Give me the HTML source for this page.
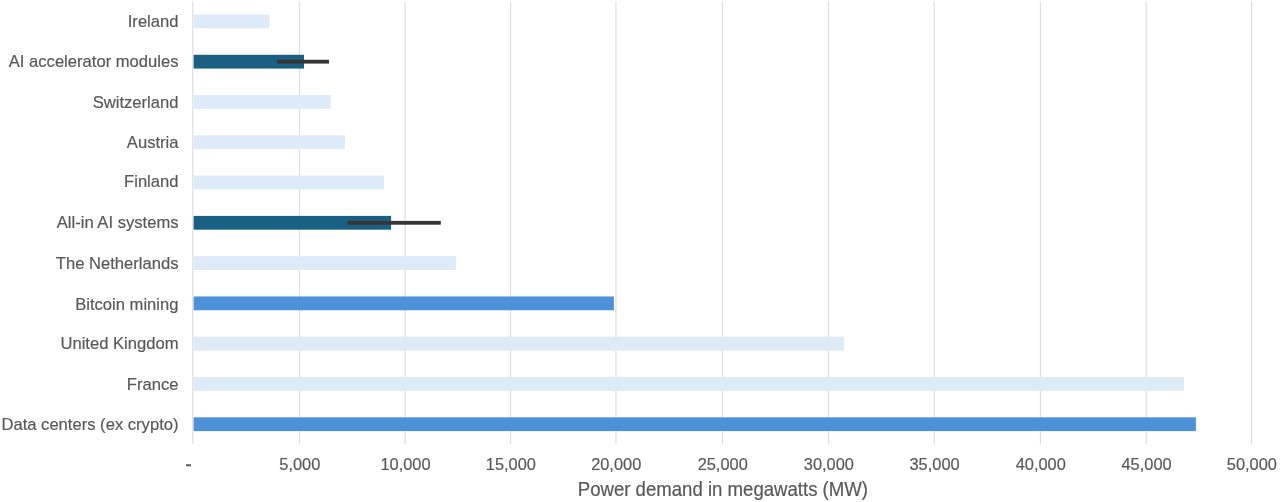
<!DOCTYPE html>
<html><head><meta charset="utf-8"><style>
html,body{margin:0;padding:0;background:#fff;width:1280px;height:502px;overflow:hidden}
svg{display:block;filter:blur(0.35px)}
.lab{font-family:"Liberation Sans",sans-serif;font-size:16.6px;fill:#595959;stroke:#595959;stroke-width:0.2px}
.tick{font-family:"Liberation Sans",sans-serif;font-size:16.4px;fill:#595959;stroke:#595959;stroke-width:0.2px}
.title{font-family:"Liberation Sans",sans-serif;font-size:18.6px;fill:#595959;stroke:#595959;stroke-width:0.2px}
</style></head><body>
<svg width="1280" height="502" viewBox="0 0 1280 502">
<rect x="192.14" y="1.5" width="1.25" height="442.5" fill="#dddfe2"/>
<rect x="298.88" y="1.5" width="1.25" height="442.5" fill="#dddfe2"/>
<rect x="404.58" y="1.5" width="1.25" height="442.5" fill="#dddfe2"/>
<rect x="509.94" y="1.5" width="1.25" height="442.5" fill="#dddfe2"/>
<rect x="615.28" y="1.5" width="1.25" height="442.5" fill="#dddfe2"/>
<rect x="721.78" y="1.5" width="1.25" height="442.5" fill="#dddfe2"/>
<rect x="827.94" y="1.5" width="1.25" height="442.5" fill="#dddfe2"/>
<rect x="933.66" y="1.5" width="1.25" height="442.5" fill="#dddfe2"/>
<rect x="1039.82" y="1.5" width="1.25" height="442.5" fill="#dddfe2"/>
<rect x="1145.66" y="1.5" width="1.25" height="442.5" fill="#dddfe2"/>
<rect x="1250.94" y="1.5" width="1.25" height="442.5" fill="#dddfe2"/>
<rect x="193.63" y="14.50" width="75.87" height="13.8" fill="#ddeaf7"/>
<text x="178.5" y="26.70" text-anchor="end" class="lab">Ireland</text>
<rect x="193.63" y="54.78" width="110.37" height="13.8" fill="#1a6082"/>
<rect x="277.00" y="59.78" width="52.00" height="3.8" fill="#353535"/>
<text x="178.5" y="67.28" text-anchor="end" class="lab">AI accelerator modules</text>
<rect x="193.63" y="95.06" width="137.17" height="13.8" fill="#ddeaf7"/>
<text x="178.5" y="107.96" text-anchor="end" class="lab">Switzerland</text>
<rect x="193.63" y="135.34" width="151.37" height="13.8" fill="#ddeaf7"/>
<text x="178.5" y="148.44" text-anchor="end" class="lab">Austria</text>
<rect x="193.63" y="175.62" width="190.37" height="13.8" fill="#ddeaf7"/>
<text x="178.5" y="187.37" text-anchor="end" class="lab">Finland</text>
<rect x="193.63" y="215.90" width="197.47" height="13.8" fill="#1a6082"/>
<rect x="347.50" y="220.90" width="93.30" height="3.8" fill="#353535"/>
<text x="178.5" y="227.90" text-anchor="end" class="lab">All-in AI systems</text>
<rect x="193.63" y="256.18" width="262.37" height="13.8" fill="#ddeaf7"/>
<text x="178.5" y="269.43" text-anchor="end" class="lab">The Netherlands</text>
<rect x="193.63" y="296.46" width="420.27" height="13.8" fill="#4d92d9"/>
<text x="178.5" y="310.46" text-anchor="end" class="lab">Bitcoin mining</text>
<rect x="193.63" y="336.74" width="650.27" height="13.8" fill="#ddeaf7"/>
<text x="178.5" y="348.74" text-anchor="end" class="lab">United Kingdom</text>
<rect x="193.63" y="377.02" width="990.27" height="13.8" fill="#ddeaf7"/>
<text x="178.5" y="389.77" text-anchor="end" class="lab">France</text>
<rect x="193.63" y="417.30" width="1002.27" height="13.8" fill="#4d92d9"/>
<text x="178.5" y="430.30" text-anchor="end" class="lab">Data centers (ex crypto)</text>
<rect x="186" y="464.2" width="5" height="2.1" fill="#5f5f5f"/>
<text x="299.80" y="469.7" text-anchor="middle" class="tick">5,000</text>
<text x="405.50" y="469.7" text-anchor="middle" class="tick">10,000</text>
<text x="510.86" y="469.7" text-anchor="middle" class="tick">15,000</text>
<text x="616.20" y="469.7" text-anchor="middle" class="tick">20,000</text>
<text x="722.70" y="469.7" text-anchor="middle" class="tick">25,000</text>
<text x="828.86" y="469.7" text-anchor="middle" class="tick">30,000</text>
<text x="934.58" y="469.7" text-anchor="middle" class="tick">35,000</text>
<text x="1040.74" y="469.7" text-anchor="middle" class="tick">40,000</text>
<text x="1146.58" y="469.7" text-anchor="middle" class="tick">45,000</text>
<text x="1251.86" y="469.7" text-anchor="middle" class="tick">50,000</text>
<text x="0" y="0" transform="translate(722.9,495.9) scale(1,1.07)" text-anchor="middle" class="title">Power demand in megawatts (MW)</text>
</svg>
</body></html>
